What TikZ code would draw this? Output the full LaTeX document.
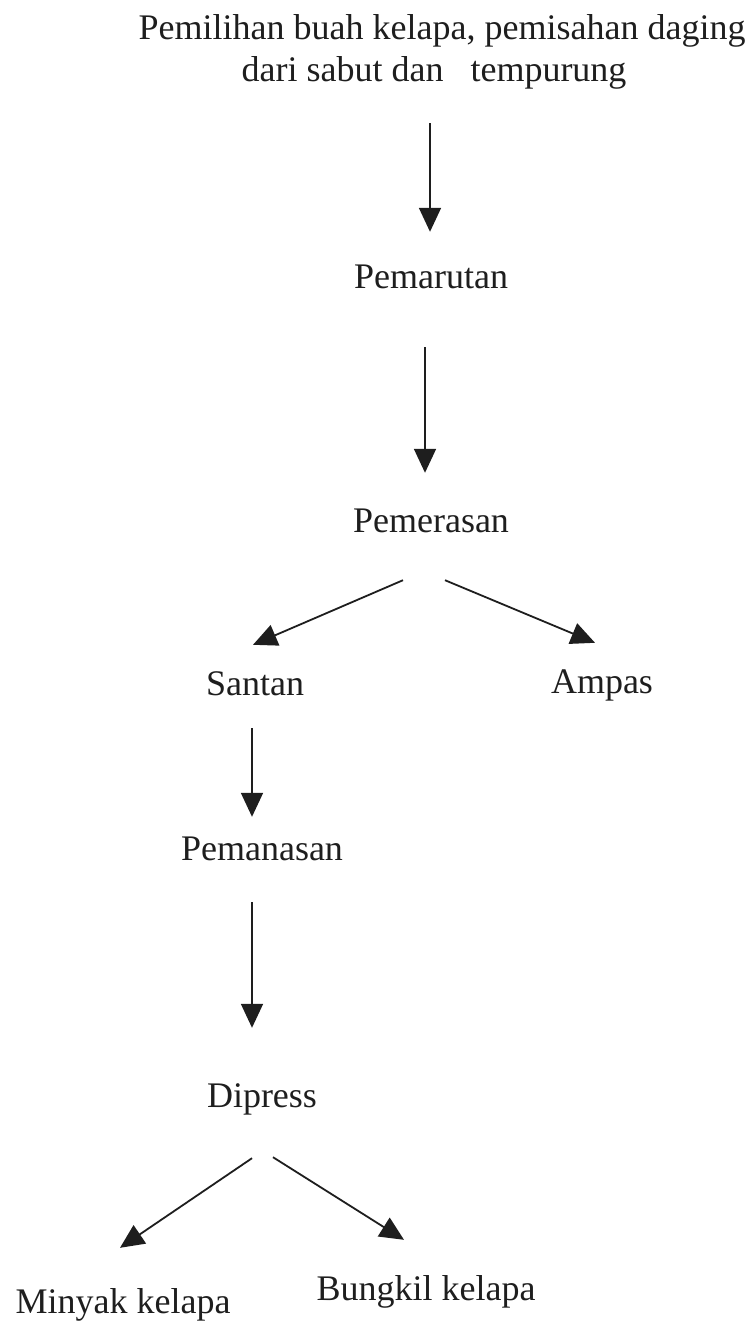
\documentclass[tikz,border=0pt]{standalone}
\usepackage{fontspec}
\setmainfont{Liberation Serif}
\usetikzlibrary{arrows.meta}
\definecolor{ink}{HTML}{1E1E1E}
\tikzset{
  lbl/.style={anchor=base, inner sep=0pt, text height=25pt, text depth=8pt,
    font=\fontsize{36pt}{43pt}\selectfont, text=ink},
  arr/.style={draw=ink, line width=1.8pt,
    -{Triangle[length=24pt,width=22pt]}}
}
\begin{document}
\begin{tikzpicture}[x=1pt,y=-1pt]
\useasboundingbox (0,0) rectangle (748,1329);
\node[lbl] (t1) at (442,40) {Pemilihan buah kelapa, pemisahan daging};
\node[lbl] (t2) at (434,82) {dari sabut dan\ \ \ tempurung};
\node[lbl] (pemarutan) at (431,288) {Pemarutan};
\node[lbl] (pemerasan) at (431,532) {Pemerasan};
\node[lbl] (santan) at (255,695) {Santan};
\node[lbl] (ampas) at (602,693) {Ampas};
\node[lbl] (pemanasan) at (262,860) {Pemanasan};
\node[lbl] (dipress) at (262,1107) {Dipress};
\node[lbl] (minyak) at (123,1313) {Minyak kelapa};
\node[lbl] (bungkil) at (426,1300) {Bungkil kelapa};

\draw[arr] ([xshift=-1pt,yshift=-33pt]pemarutan.north |- t2.south) -- ([xshift=-1pt,yshift=31pt]pemarutan.north);
\draw[arr] ([xshift=-6pt,yshift=-51pt]pemarutan.south) -- ([xshift=-6pt,yshift=34pt]pemerasan.north);
\draw[arr] ([xshift=-28pt,yshift=-40pt]pemerasan.south) -- ([xshift=-2pt,yshift=25pt]santan.north);
\draw[arr] ([xshift=14pt,yshift=-40pt]pemerasan.south) -- ([xshift=-7pt,yshift=25pt]ampas.north);
\draw[arr] ([xshift=-3pt,yshift=-25pt]santan.south) -- ([xshift=-10pt,yshift=18pt]pemanasan.north);
\draw[arr] ([xshift=-10pt,yshift=-34pt]pemanasan.south) -- ([xshift=-10pt,yshift=54pt]dipress.north);
\draw[arr] ([xshift=-10pt,yshift=-43pt]dipress.south) -- ([xshift=-3pt,yshift=40pt]minyak.north);
\draw[arr] ([xshift=11pt,yshift=-42pt]dipress.south) -- ([xshift=-22pt,yshift=35pt]bungkil.north);
\end{tikzpicture}
\end{document}
